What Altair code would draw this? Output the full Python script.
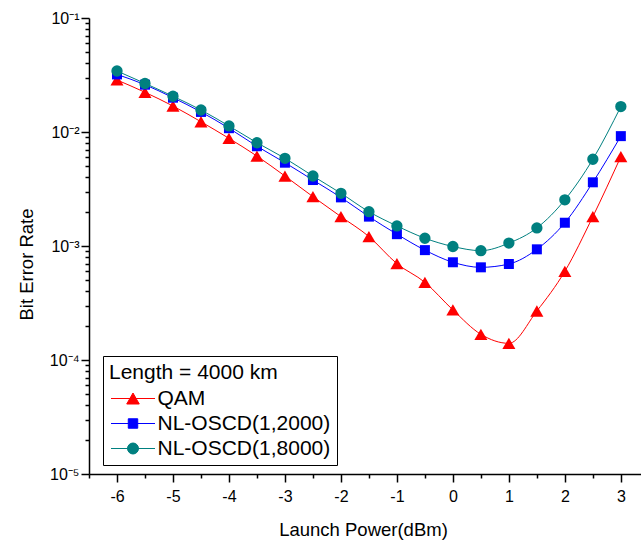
import altair as alt
import pandas as pd

# ---- data ----
power = [-6, -5.5, -5, -4.5, -4, -3.5, -3, -2.5, -2, -1.5, -1, -0.5, 0, 0.5, 1, 1.5, 2, 2.5, 3]
ber_qam = [2.86e-2, 2.23e-2, 1.69e-2, 1.23e-2, 8.8e-3, 6.15e-3, 4.11e-3, 2.71e-3, 1.81e-3, 1.21e-3,
           7.0e-4, 4.8e-4, 2.75e-4, 1.68e-4, 1.40e-4, 2.69e-4, 6.0e-4, 1.81e-3, 6.08e-3]
ber_2000 = [3.2e-2, 2.6e-2, 2.0e-2, 1.5e-2, 1.08e-2, 7.5e-3, 5.38e-3, 3.79e-3, 2.67e-3, 1.81e-3,
            1.27e-3, 9.2e-4, 7.2e-4, 6.5e-4, 6.95e-4, 9.35e-4, 1.6e-3, 3.62e-3, 9.2e-3]
ber_8000 = [3.43e-2, 2.67e-2, 2.06e-2, 1.56e-2, 1.13e-2, 8.05e-3, 5.88e-3, 4.11e-3, 2.9e-3, 2.0e-3,
            1.5e-3, 1.17e-3, 9.9e-4, 9.1e-4, 1.06e-3, 1.44e-3, 2.54e-3, 5.77e-3, 1.67e-2]

series_names = ["QAM", "NL-OSCD(1,2000)", "NL-OSCD(1,8000)"]
series_values = [ber_qam, ber_2000, ber_8000]
legend_title = "Length = 4000 km"
x_title = "Launch Power(dBm)"
y_title = "Bit Error Rate"
x_major = [-6, -5, -4, -3, -2, -1, 0, 1, 2, 3]
x_minor = [-6.5, -5.5, -4.5, -3.5, -2.5, -1.5, -0.5, 0.5, 1.5, 2.5]
y_major = [1e-1, 1e-2, 1e-3, 1e-4, 1e-5]
y_minor = [k * 10.0 ** e for e in (-5, -4, -3, -2) for k in range(2, 10)]

# ---- styles ----
colors = ["#FF0000", "#0000FF", "#008080"]
shapes = ["triangle-up", "square", "circle"]
sizes = [170, 100, 128]
legend_paths = [
    "M-2,0H2M0,-0.5L0.57,0.5L-0.57,0.5Z",
    "M-2,0H2M-0.43,-0.43H0.43V0.43H-0.43Z",
    "M-2,0H2M-0.5,0A0.5,0.5,0,1,0,0.5,0A0.5,0.5,0,1,0,-0.5,0Z",
]
FONT = "Liberation Sans"

rows = []
for name, vals in zip(series_names, series_values):
    for p, v in zip(power, vals):
        rows.append({"power": p, "ber": v, "series": name})
df = pd.DataFrame(rows)

X_SCALE = alt.Scale(domain=[-6.5, 3.36], nice=False, zero=False)
Y_SCALE = alt.Scale(type="log", domain=[1e-5, 1e-1], nice=False)

x_major_axis = alt.Axis(
    values=x_major, tickSize=8, tickWidth=1.5, domainWidth=1.5, grid=False,
    labelExpr="datum.value < 0 ? '-' + abs(datum.value) : '' + datum.value",
    labelFontSize=16, labelPadding=6, labelFont=FONT, labelColor="black",
    title=x_title, titleFontSize=18.5, titleFont=FONT, titleFontWeight="normal",
    titleColor="black", titleX=274, titleY=55, titleBaseline="middle", titleAlign="center",
    orient="bottom",
)
y_major_axis = alt.Axis(
    values=y_major, tickSize=8, tickWidth=1.5, domainWidth=1.5, grid=False,
    labelExpr="datum.value > 0.05 ? '10⁻¹' : datum.value > 0.005 ? '10⁻²' : datum.value > 0.0005 ? '10⁻³' : datum.value > 0.00005 ? '10⁻⁴' : '10⁻⁵'",
    labelFontSize=16, labelPadding=2, labelFont=FONT, labelColor="black",
    labelBaseline="middle",
    title=y_title, titleFontSize=18.5, titleFont=FONT, titleFontWeight="normal",
    titleColor="black", titleX=-63, titleY=246, titleAngle=270,
    titleBaseline="middle", titleAlign="center",
    orient="left",
)
x_minor_axis = alt.Axis(values=x_minor, tickSize=4, tickWidth=1.5, labels=False,
                        domain=False, grid=False, title=None, orient="bottom")
y_minor_axis = alt.Axis(values=y_minor, tickSize=4, tickWidth=1.5, labels=False,
                        domain=False, grid=False, title=None, orient="left")

base = alt.Chart(df)
layers = []
for i, name in enumerate(series_names):
    first = i == 0
    xa = x_major_axis if first else None
    ya = y_major_axis if first else None
    sub = base.transform_filter(alt.datum.series == name)
    line = sub.mark_line(color=colors[i], strokeWidth=1, interpolate="monotone").encode(
        x=alt.X("power:Q", scale=X_SCALE, axis=xa),
        y=alt.Y("ber:Q", scale=Y_SCALE, axis=ya),
    )
    pts = sub.mark_point(filled=True, shape=shapes[i], size=sizes[i], color=colors[i],
                         opacity=1, strokeWidth=0).encode(
        x=alt.X("power:Q", scale=X_SCALE, axis=None),
        y=alt.Y("ber:Q", scale=Y_SCALE, axis=None),
    )
    layers += [line, pts]

legend_layer = base.transform_filter("false").mark_point(
    filled=True, opacity=1, strokeWidth=1
).encode(
    x=alt.X("power:Q", scale=X_SCALE, axis=x_minor_axis),
    y=alt.Y("ber:Q", scale=Y_SCALE, axis=y_minor_axis),
    fill=alt.Fill("series:N", scale=alt.Scale(domain=series_names, range=colors),
                  title=legend_title, sort=series_names),
    stroke=alt.Stroke("series:N", scale=alt.Scale(domain=series_names, range=colors),
                      title=legend_title, sort=series_names),
    shape=alt.Shape("series:N", scale=alt.Scale(domain=series_names, range=legend_paths),
                    title=legend_title, sort=series_names),
)
layers.append(legend_layer)

chart = alt.layer(*layers).resolve_axis(x="independent", y="independent").properties(
    width=552, height=456,
    autosize=alt.AutoSizeParams(type="none"),
    padding={"left": 89, "top": 18, "right": 0, "bottom": 66},
    background="white",
).configure_view(stroke=None).configure_axis(
    domainColor="black", tickColor="black",
).configure_legend(
    orient="none", legendX=14, legendY=338,
    strokeColor="black", fillColor="white", padding=6, cornerRadius=0,
    titleFont=FONT, titleFontSize=21, titleFontWeight="normal", titleColor="black",
    titlePadding=4,
    labelFont=FONT, labelFontSize=21, labelColor="black", labelLimit=400,
    symbolSize=484, symbolStrokeWidth=1, symbolOffset=12.5, labelOffset=13,
    rowPadding=3,
)

chart.save("out.html", embed_options={"renderer": "svg", "actions": False})
